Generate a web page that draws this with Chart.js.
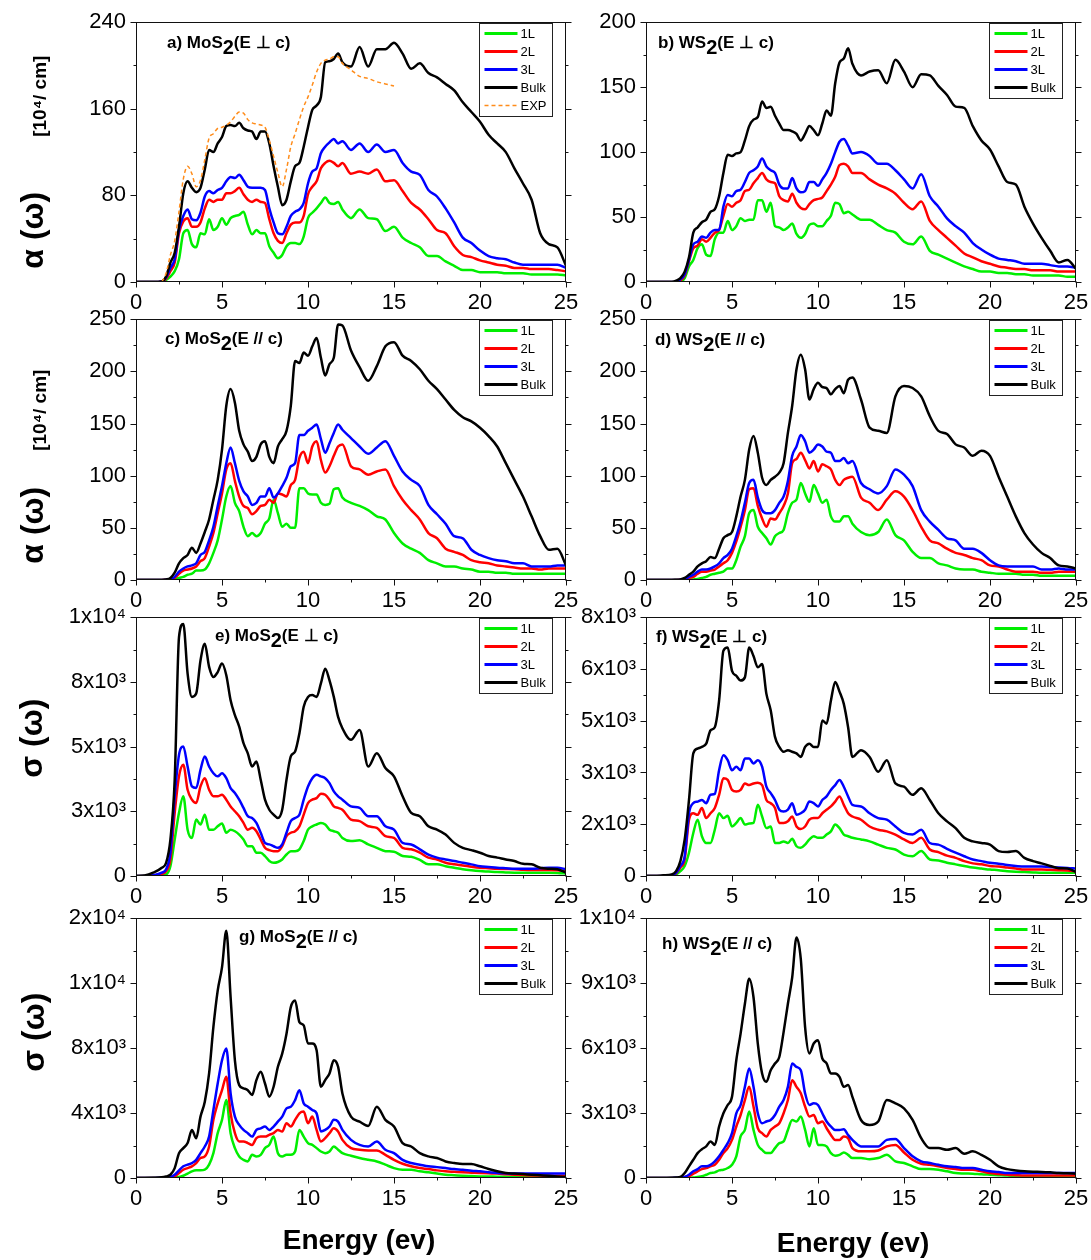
<!DOCTYPE html>
<html><head><meta charset="utf-8">
<script src="https://cdn.jsdelivr.net/npm/chart.js@4.4.1/dist/chart.umd.min.js"></script>
<style>
html,body{margin:0;padding:0;background:#fff;}
body{width:1091px;height:1260px;position:relative;overflow:hidden;}
canvas{position:absolute;}
</style></head><body>
<script>
// ---------- DATA ----------
const energy = [0,0.5,1,1.5,1.75, 2,2.25,2.5,2.75,3,3.25,3.5,3.75,4,4.25,4.5,4.75, 5,5.25,5.5,5.75,6,6.25,6.5,6.75,7,7.25,7.5,7.75, 8,8.25,8.5,8.75,9,9.25,9.5,9.75,10,10.25,10.5,10.75, 11,11.25,11.5,11.75,12, 12.5,13,13.5,14,14.5,15,15.5,16,16.5,17,17.5,18, 18.5,19,19.5,20,20.5,21,21.5,22,22.5,23,23.5,24,24.5,25];

const seriesNames = ['1L','2L','3L','Bulk'];
const expName = 'EXP';

// a) MoS2 (E ⊥ c) absorption
const a1L = [0,0,0,0.3,2, 5,10,21,45,48,35,32,45,44,58,48,51, 59,53,59,61,62,65,53,44,48,45,45,33, 27,22,25,33,36,36,35,42,59,64,68,73, 78,73,72,74,67, 59,67,59,58,47,51,41,36,32,24,24,19, 15,11,11,9,9,9,8,8,8,7,7,7,7,6];
const a2L = [0,0,0,0.5,3, 10,18,45,56,59,51,51,55,68,76,74,76, 76,82,82,84,87,81,76,74,76,74,73,58, 45,38,36,45,53,55,55,61,81,88,93,105, 110,112,110,107,110, 100,102,100,104,93,94,84,73,67,58,48,45, 33,25,23,20,18,16,15,13,13,12,12,12,11,10];
const a3L = [0,0,0,0.5,4, 13,21,48,61,67,58,57,64,79,84,82,85, 87,93,97,96,99,94,88,87,87,87,85,68, 55,45,44,51,61,65,67,73,91,102,105,119, 125,129,132,128,130, 122,128,120,127,120,122,110,102,99,85,79,68, 55,41,36,29,24,22,21,18,16,16,16,16,16,13];
const aBulk = [0,0,0,0.5,5, 18,27,51,82,93,87,83,87,104,122,120,128, 134,144,145,144,147,142,140,139,132,139,139,128, 107,88,71,76,93,107,110,125,143,159,163,171, 203,204,206,211,203, 199,217,199,215,215,221,211,197,202,193,189,183, 177,166,157,148,136,128,120,105,91,76,45,35,32,15];
const aExp = [null,null,null,0,8, 25,38,65,95,107,100,88,94,113,133,137,142, 143,145,148,153,157,156,150,147,146,145,143,131, 116,101,88,104,125,137,150,162,171,182,194,202, 205,206,208,208,202, 196,190,188,185,183,181,null,null,null,null,null,null, null,null,null,null,null,null,null,null,null,null,null,null,null,null];

// b) WS2 (E ⊥ c) absorption
const b1L = [0,0,0,0,0.2, 0.5,3,12,17,26,29,21,20,33,38,38,47, 40,43,49,47,48,48,63,63,54,61,43,42, 40,42,45,37,34,37,44,45,43,43,47,51, 61,60,53,54,52, 48,48,44,40,38,31,29,35,24,21,18,15, 12,10,8,8,7,7,6,6,5,5,5,5,4,4];
const b2L = [0,0,0,0,0.3, 1,5,16,26,28,33,31,34,38,40,51,60, 58,61,63,70,71,76,80,84,79,77,76,66, 63,62,68,61,57,56,60,63,64,65,70,75, 81,90,91,89,84, 84,79,75,72,68,61,56,62,47,40,34,28, 22,19,16,14,12,11,10,10,9,9,9,8,8,8];
const b3L = [0,0,0,0,0.5, 2,6,17,29,31,35,34,38,40,40,58,67, 66,70,71,77,84,86,89,95,89,86,84,75, 72,72,80,72,69,70,77,77,74,79,84,91, 100,108,110,105,99, 100,97,91,91,86,79,72,83,66,58,49,43, 38,30,25,21,18,17,16,14,14,14,13,12,12,11];
const bBulk = [0,0,0,0,1, 3,8,19,38,42,46,48,54,56,66,84,98, 97,99,100,109,120,125,127,139,134,135,128,122, 117,117,116,114,109,114,120,117,113,122,132,128, 153,169,172,180,168, 159,162,163,153,171,162,150,160,159,151,144,135, 134,120,109,102,89,77,75,58,45,34,24,15,17,10];

// c) MoS2 (E // c) absorption
const c1L = [0,0,0,0,0, 0,0.5,2,3,5,6,9,9,10,16,26,38, 58,80,90,74,66,51,42,45,42,45,54,59, 77,64,51,54,50,50,88,88,83,82,82,74, 72,73,87,88,79, 74,71,67,61,58,45,35,30,26,19,16,13, 13,11,10,8,8,7,7,6,6,6,6,6,6,6];
const c2L = [0,0,0,0,0.2, 0.5,2,6,9,10,11,13,18,21,32,45,64, 83,106,112,95,80,71,69,63,66,71,72,77, 74,83,82,80,91,96,117,123,112,128,133,115, 103,109,119,128,130, 109,106,101,104,106,90,77,67,58,45,40,30, 27,24,19,17,16,14,13,12,11,11,10,11,11,11];
const c3L = [0,0,0,0,0.3, 1,3,8,11,13,14,16,24,27,38,51,71, 90,112,127,112,95,85,80,72,74,80,80,88, 79,83,90,98,109,112,139,139,143,146,149,135, 122,131,141,149,144, 136,128,121,127,133,119,104,96,90,72,63,54, 42,40,29,24,21,19,18,16,16,13,13,13,14,14];
const cBulk = [0,0,0,0,0.5, 2,7,16,21,24,31,26,35,46,58,77,96, 125,167,183,170,143,130,123,114,118,130,133,118, 112,128,135,143,167,210,208,218,215,224,232,213, 196,207,213,245,244, 220,204,191,205,224,228,215,210,202,191,183,173, 163,156,152,146,138,128,112,96,80,61,42,29,30,14];

// d) WS2 (E // c) absorption
const d1L = [0,0,0,0,0, 0,0,0.3,0.6,1,2,3,5,6,7,8,11, 11,19,32,42,64,67,51,45,40,34,42,45, 48,64,74,77,93,83,75,91,83,74,77,61, 56,56,61,61,54, 46,43,46,58,43,38,27,21,21,16,14,11, 10,10,8,7,6,6,6,5,5,4,4,4,4,4];
const d2L = [0,0,0,0,0, 0.2,0.5,2,3,6,8,8,9,10,13,16,19, 26,37,51,67,87,88,71,59,51,59,58,64, 71,83,112,116,122,115,107,114,104,111,109,106, 96,91,96,98,99, 79,74,67,77,85,80,67,51,38,35,30,26, 24,21,19,14,13,10,8,8,8,7,7,8,8,8];
const d3L = [0,0,0,0,0, 0.3,1,3,5,8,10,10,11,13,16,21,24, 30,42,56,74,93,96,79,67,64,64,67,74, 80,95,119,128,139,133,122,125,130,128,123,122, 114,114,117,112,114, 93,87,83,90,106,101,90,67,56,48,40,38, 30,30,26,19,14,13,13,13,13,10,10,11,10,10];
const dBulk = [0,0,0,0,0.2, 0.5,2,5,8,13,16,18,22,21,30,40,43, 46,61,80,96,125,138,122,98,91,96,99,103, 112,141,167,202,216,202,173,183,189,185,184,178, 183,186,179,192,194, 173,146,143,141,176,186,184,176,157,143,140,130, 127,119,124,119,99,80,61,45,34,26,21,14,13,11];

// e) MoS2 (E ⊥ c) conductivity
const e1L = [0,0,10,30,60, 380,1410,2440,3080,1790,1470,2180,1990,2370,1790,1790,1920, 2030,1670,1790,1730,1600,1410,1150,1150,900,900,770,580, 510,540,640,830,960,960,1030,1350,1790,1920,1990,2050, 1990,1790,1730,1670,1470, 1350,1380,1220,1090,960,940,770,740,620,450,450,380, 320,260,220,190,170,150,140,130,130,130,130,130,120,100];
const e2L = [0,0,20,80,190, 640,2440,3850,4300,3330,2950,2820,3460,3780,3330,3080,3080, 3140,2950,2690,2500,2310,2050,1790,1860,1730,1410,1090,1000, 960,960,1150,1540,1670,1730,1920,2370,2820,2950,3010,3180, 3140,2950,2690,2630,2560, 2180,2120,1920,1860,1540,1470,1090,1030,900,710,640,510, 450,410,360,320,300,280,270,260,240,230,230,230,220,190];
const e3L = [0,0,30,130,260, 900,3080,4680,5000,4230,3460,3400,4100,4620,4230,3970,3850, 3970,3780,3400,3210,2950,2630,2310,2240,2050,1670,1280,1220, 1150,1090,1220,1670,2120,2240,2370,2950,3460,3780,3910,3850, 3780,3590,3270,3080,2950, 2690,2630,2310,2310,1920,1790,1280,1220,1030,830,710,640, 580,510,450,380,350,320,300,280,280,280,300,320,320,260];
const eBulk = [0,20,130,320,510, 1410,3720,9230,9740,7820,6920,7050,8330,8970,8080,7690,7880, 8210,7760,6790,6220,5770,5130,4740,4230,4420,3720,2950,2560, 2370,2240,2560,3720,4620,4810,5510,6540,6920,6990,6920,7440, 8010,7560,6920,6150,5710, 5260,5640,4230,4740,4170,3850,3080,2440,2310,1920,1790,1600, 1280,1090,1000,900,770,710,640,580,470,450,320,280,260,130];

// f) WS2 (E ⊥ c) conductivity
const f1L = [0,0,0,10,50, 150,310,720,1330,1740,1230,1020,1020,1430,1940,1790,1860, 1530,1640,1790,1590,1620,1640,2200,1840,1480,1530,1020,1020, 1070,1020,1150,920,870,970,1130,1230,1180,1180,1280,1380, 1590,1480,1280,1230,1180, 1130,1070,970,870,820,660,610,770,510,480,410,360, 310,260,230,200,180,150,130,120,110,100,100,100,100,100];
const f2L = [0,0,0,20,80, 260,510,1740,1940,1890,2100,1790,1940,2100,2510,3020,2970, 2660,2610,2660,2860,2810,2860,2880,2810,2350,2250,2100,1640, 1640,1690,1840,1530,1450,1530,1740,1790,1790,1940,2050,2150, 2300,2460,2200,1940,1840, 1740,1530,1430,1380,1280,1130,1020,1180,820,740,630,560, 460,390,360,310,290,260,230,200,200,200,190,180,170,150];
const f3L = [0,0,0,30,100, 310,610,1940,2250,2300,2350,2250,2510,2540,3270,3730,3580, 3270,3380,3270,3630,3630,3480,3580,3380,2760,2560,2350,2050, 1990,2050,2250,1890,1940,2050,2300,2250,2150,2350,2460,2660, 2810,2970,2760,2460,2200, 2150,1940,1790,1740,1530,1330,1280,1430,1020,970,840,720, 610,510,460,410,380,340,310,290,290,290,280,260,250,230];
const fBulk = [0,0,20,50,150, 460,1130,2350,3790,3940,3990,4090,4500,4600,5420,6960,7060, 6340,6190,6040,6140,7060,6800,6450,6550,5630,5120,4300,3990, 3840,3890,3840,3790,3680,3990,4090,3990,3990,4810,4710,5420, 6000,5700,5320,4600,3680, 3890,3680,3220,3580,2860,2760,2510,2710,2350,1940,1690,1480, 1180,1070,1020,970,770,740,770,560,460,390,310,240,230,120];

// g) MoS2 (E // c) conductivity
const g1L = [0,0,0,0,0, 20,40,60,140,270,410,470,470,510,820,1530,2760, 3580,4800,2760,1840,1330,1120,1020,1430,1330,1430,1840,2040, 2550,1530,1330,1430,1430,1630,2960,2550,2150,2040,1840,1630, 1530,1630,1940,1740,1530, 1370,1230,1120,1020,820,610,510,510,410,350,280,200, 170,140,120,100,90,80,70,60,60,50,50,50,40,40];
const g2L = [0,0,0,0,20, 50,100,310,510,610,720,920,1230,1330,1940,3580,4600, 5410,6230,3980,2760,2250,2250,2150,2040,2450,2550,2550,2660, 2760,2960,2860,3370,3170,3580,3980,4090,3370,3780,2960,2250, 2450,2760,3060,2860,2350, 1840,1740,1700,1700,1430,1120,880,720,610,550,470,410, 380,350,330,310,290,270,230,200,180,160,150,140,140,140];
const g3L = [0,0,0,10,30, 60,200,470,720,820,920,1120,1530,1940,2550,4190,5820, 7250,7970,5210,3780,3270,2960,2760,2550,2960,3060,3170,2960, 3170,3470,3780,4290,4390,4800,5410,4600,4390,4190,3980,2860, 2960,3170,3580,3470,2960, 2350,2040,1940,2250,1740,1530,1120,920,820,720,670,610, 550,510,450,410,360,310,290,270,270,270,270,270,270,270];
const gBulk = [0,0,10,40,100, 200,610,1530,1840,2150,2960,2450,3780,4700,6440,9300,11540, 12970,15220,11140,7250,5720,5520,5410,5110,6030,6540,5820,5010, 5620,6850,7660,8890,10520,10930,9600,9400,8280,8280,7870,5620, 6030,6440,7250,6850,5210, 3780,3470,3210,4390,3580,3170,2150,1940,1530,1330,1230,1020, 920,860,860,720,550,410,310,270,240,200,170,140,100,60];

// h) WS2 (E // c) conductivity
const h1L = [0,0,0,0,0, 0,0,10,20,50,80,150,230,260,350,380,460, 610,1000,1920,2220,3070,2220,1530,1300,1150,1150,1380,1610, 1690,2220,2680,2610,2840,2220,1460,2300,1530,1530,1460,1150, 1030,1070,1180,1070,920, 920,870,920,1070,770,690,540,410,410,380,310,230, 210,200,170,150,130,110,100,80,80,80,80,80,80,80];
const h2L = [0,0,0,0,0, 20,50,80,200,310,410,460,540,610,840,1150,1380, 1760,2380,2910,3600,4210,3300,2300,2070,1920,2220,2380,2530, 2990,3600,4520,4210,3910,3300,2840,2910,2530,2610,2300,1990, 1760,1760,1920,1840,1380, 1230,1230,1270,1460,1530,1180,840,660,610,540,460,410, 380,380,310,230,190,150,130,110,110,110,110,110,110,110];
const h3L = [0,0,0,0,10, 20,50,150,310,410,540,540,610,770,1000,1300,1610, 2070,2990,3370,4210,5060,4210,2990,2530,2610,2680,2910,3300, 3600,4210,5290,5130,4980,3910,3370,3450,3370,2990,2610,2380, 2220,2220,2250,1990,1760, 1460,1460,1460,1760,1800,1380,1000,770,690,610,540,510, 460,460,380,310,280,230,230,230,230,230,230,230,230,230];
const hBulk = [0,0,0,10,20, 50,230,540,840,1150,1330,1460,1690,1530,2380,2990,3370, 3750,5440,6670,8050,9200,8350,6210,4830,4440,4980,5290,5590, 6740,8050,9270,11110,10110,6970,5750,6210,6360,5520,5290,4830, 4830,4670,4210,4290,3750, 2680,2450,2610,3600,3450,3220,2680,1840,1380,1380,1300,1380, 1120,1230,1070,840,540,410,350,310,290,280,260,230,220,200];

// tick labels
const xTickVals = [0,5,10,15,20,25];
const xTickLabels = ['0','5','10','15','20','25'];
const yTickValsA = [0,80,160,240];            const yTickLabelsA = ['0','80','160','240'];
const yTickValsB = [0,50,100,150,200];        const yTickLabelsB = ['0','50','100','150','200'];
const yTickValsCD = [0,50,100,150,200,250];   const yTickLabelsCD = ['0','50','100','150','200','250'];
const yTickValsE = [0,2500,5000,7500,10000];  const yTickLabelsE = ['0','3x10³','5x10³','8x10³','1x10⁴'];
const yTickValsF = [0,1600,3200,4800,6400,8000]; const yTickLabelsF = ['0','2x10³','3x10³','5x10³','6x10³','8x10³'];
const yTickValsG = [0,4000,8000,12000,16000]; const yTickLabelsG = ['0','4x10³','8x10³','1x10⁴','2x10⁴'];
const yTickValsH = [0,3000,6000,9000,12000];  const yTickLabelsH = ['0','3x10³','6x10³','9x10³','1x10⁴'];

// ---------- LAYOUT / STYLE ----------
const FAM = '"Liberation Sans", Arial, Helvetica, sans-serif';
const lineColors = ['#00ee00','#ff0000','#0000ff','#000000'];
const colLeft = [136, 646], colRight = [566, 1076];
const rowTop = [22, 319, 617, 918], rowBottom = [282, 580, 876, 1178];

const panels = [
  {row:0,col:0, s:[a1L,a2L,a3L,aBulk], exp:aExp, yv:yTickValsA, yl:yTickLabelsA, minor:2, title:['a) MoS','2','(E \u22A5 c)'], tdx:31, tdy:20,
    texts:[{t:'\u03B1 (\u03C9)', x:34, y:230, f:'bold 32px', r:1},{t:'[10\u2074/ cm]', x:41, y:96, f:'bold 19px', r:1}]},
  {row:0,col:1, s:[b1L,b2L,b3L,bBulk], yv:yTickValsB, yl:yTickLabelsB, minor:2, title:['b) WS','2','(E \u22A5 c)'], tdx:12, tdy:20, texts:[]},
  {row:1,col:0, s:[c1L,c2L,c3L,cBulk], yv:yTickValsCD, yl:yTickLabelsCD, minor:2, title:['c) MoS','2','(E // c)'], tdx:29, tdy:19,
    texts:[{t:'\u03B1 (\u03C9)', x:34, y:525, f:'bold 32px', r:1},{t:'[10\u2074/ cm]', x:41, y:410, f:'bold 19px', r:1}]},
  {row:1,col:1, s:[d1L,d2L,d3L,dBulk], yv:yTickValsCD, yl:yTickLabelsCD, minor:2, title:['d) WS','2','(E // c)'], tdx:9, tdy:20, texts:[]},
  {row:2,col:0, s:[e1L,e2L,e3L,eBulk], yv:yTickValsE, yl:yTickLabelsE, minor:2, title:['e) MoS','2','(E \u22A5 c)'], tdx:79, tdy:18,
    texts:[{t:'\u03C3 (\u03C9)', x:33, y:738, f:'bold 32px', r:1}]},
  {row:2,col:1, s:[f1L,f2L,f3L,fBulk], yv:yTickValsF, yl:yTickLabelsF, minor:2, title:['f) WS','2','(E \u22A5 c)'], tdx:10, tdy:19, texts:[]},
  {row:3,col:0, s:[g1L,g2L,g3L,gBulk], yv:yTickValsG, yl:yTickLabelsG, minor:2, title:['g) MoS','2','(E // c)'], tdx:103, tdy:18,
    texts:[{t:'\u03C3 (\u03C9)', x:35, y:1032, f:'bold 32px', r:1},{t:'Energy (ev)', x:359, y:1241, f:'bold 28px', r:0}]},
  {row:3,col:1, s:[h1L,h2L,h3L,hBulk], yv:yTickValsH, yl:yTickLabelsH, minor:2, title:['h) WS','2','(E // c)'], tdx:16, tdy:25,
    texts:[{t:'Energy (ev)', x:853, y:1244, f:'bold 28px', r:0}]}
];

function makeDecor(p, tgtLeft, tgtTop) {
  return {
    id: 'decor',
    afterDraw(chart) {
      const ctx = chart.ctx, ca = chart.chartArea, xs = chart.scales.x, ys = chart.scales.y;
      const offX = tgtLeft - ca.left, offY = tgtTop - ca.top;
      ctx.save();
      ctx.strokeStyle = '#111'; ctx.lineWidth = 1; ctx.setLineDash([]);
      const L = Math.round(ca.left) + 0.5, T = Math.round(ca.top) + 0.5;
      const R = Math.round(ca.right) - 0.5, B = Math.round(ca.bottom) - 0.5;
      ctx.strokeRect(L, T, R - L, B - T);
      // tick marks (major + minor)
      ctx.beginPath();
      const xStep = (xTickVals[1] - xTickVals[0]) / 2;
      for (let v = xs.min; v <= xs.max + 1e-9; v += xStep) {
        const px = Math.round(xs.getPixelForValue(v)) + 0.5;
        const len = xTickVals.includes(v) ? 6 : 3;
        ctx.moveTo(px, B); ctx.lineTo(px, B + len);
      }
      const yStep = (p.yv[1] - p.yv[0]) / p.minor;
      for (let v = ys.min; v <= ys.max + 1e-9; v += yStep) {
        const py = Math.round(ys.getPixelForValue(v)) + 0.5;
        const len = p.yv.includes(v) ? 6 : 3;
        ctx.moveTo(L - len, py); ctx.lineTo(L, py);
        ctx.moveTo(R, py); ctx.lineTo(R + len, py);
      }
      ctx.stroke();
      // legend box
      const dsets = chart.data.datasets;
      const bw = 73, rowH = 18, bh = rowH * dsets.length + 3;
      const bx = Math.round(ca.right - 14 - bw) + 0.5, by = Math.round(ca.top + 1) + 0.5;
      ctx.fillStyle = '#fff'; ctx.fillRect(bx, by, bw, bh);
      ctx.strokeStyle = '#222'; ctx.lineWidth = 1; ctx.strokeRect(bx, by, bw, bh);
      ctx.font = '13px ' + FAM; ctx.textBaseline = 'middle'; ctx.textAlign = 'left';
      dsets.forEach((ds, i) => {
        const cy = by + 10 + i * rowH;
        ctx.strokeStyle = ds.borderColor; ctx.lineWidth = ds.borderDash ? 1.5 : 3;
        ctx.setLineDash(ds.borderDash || []);
        ctx.beginPath(); ctx.moveTo(bx + 5, cy); ctx.lineTo(bx + 38, cy); ctx.stroke();
        ctx.setLineDash([]);
        ctx.fillStyle = '#000'; ctx.fillText(ds.label, bx + 41, cy + 1);
      });
      // panel title with subscript
      ctx.fillStyle = '#000'; ctx.textBaseline = 'alphabetic';
      let x = ca.left + p.tdx; const base = ca.top + p.tdy + 6;
      ctx.font = 'bold 17px ' + FAM; ctx.fillText(p.title[0], x, base); x += ctx.measureText(p.title[0]).width;
      ctx.font = 'bold 20px ' + FAM; ctx.fillText(p.title[1], x, base + 6); x += ctx.measureText(p.title[1]).width;
      ctx.font = 'bold 17px ' + FAM; ctx.fillText(p.title[2], x, base);
      // extra texts (axis titles), absolute page coordinates
      p.texts.forEach(t => {
        ctx.save();
        ctx.font = t.f + ' ' + FAM; ctx.textAlign = 'center'; ctx.textBaseline = 'middle'; ctx.fillStyle = '#000';
        ctx.translate(t.x - offX, t.y - offY);
        if (t.r) ctx.rotate(-Math.PI / 2);
        ctx.fillText(t.t, 0, 0);
        ctx.restore();
      });
      ctx.restore();
    }
  };
}

panels.forEach(p => {
  const left = colLeft[p.col], right = colRight[p.col], top = rowTop[p.row], bottom = rowBottom[p.row];
  const padL = 4, padR = 16, padT = 14, padB = 4;
  const yw = p.col === 0 ? 130 : 80;
  const xh = p.row === 3 ? 78 : 28;
  let cw = (right - left) + yw + padL + padR, ch = (bottom - top) + padT + padB + xh;
  const cv = document.createElement('canvas');
  cv.width = cw; cv.height = ch; cv.style.width = cw + 'px'; cv.style.height = ch + 'px';
  cv.style.left = (left - yw - padL) + 'px'; cv.style.top = (top - padT) + 'px';
  document.body.appendChild(cv);

  const datasets = p.s.map((arr, i) => ({
    label: seriesNames[i], data: energy.map((e, k) => ({x: e, y: arr[k]})),
    borderColor: lineColors[i], borderWidth: 2.5, pointRadius: 0, cubicInterpolationMode: 'monotone', fill: false, order: 5 - i
  }));
  if (p.exp) datasets.push({
    label: expName, data: energy.map((e, k) => ({x: e, y: p.exp[k]})),
    borderColor: '#ff8c1a', borderWidth: 1.5, borderDash: [4, 3], pointRadius: 0, cubicInterpolationMode: 'monotone', fill: false, order: 0, spanGaps: false
  });

  const yMax = p.yv[p.yv.length - 1];
  const grid = {display: true, drawOnChartArea: false, drawTicks: true, tickLength: 6, color: 'rgba(0,0,0,0)'};
  const chart = new Chart(cv.getContext('2d'), {
    type: 'line',
    data: {datasets},
    options: {
      responsive: false, maintainAspectRatio: false, animation: false, devicePixelRatio: 1,
      layout: {padding: {left: padL, right: padR, top: padT, bottom: padB}},
      plugins: {legend: {display: false}, tooltip: {enabled: false}, title: {display: false}},
      scales: {
        x: {type: 'linear', min: xTickVals[0], max: xTickVals[xTickVals.length - 1],
            afterFit(s) { s.height = xh; },
            grid, border: {display: false},
            ticks: {stepSize: xTickVals[1] - xTickVals[0], autoSkip: false, maxRotation: 0, color: '#000', padding: 2,
                    font: {size: 22, family: FAM},
                    callback: v => { const i = xTickVals.indexOf(v); return i >= 0 ? xTickLabels[i] : ''; }}},
        y: {type: 'linear', min: 0, max: yMax,
            afterFit(s) { s.width = yw; },
            grid, border: {display: false},
            ticks: {stepSize: p.yv[1] - p.yv[0], autoSkip: false, color: '#000', padding: 4,
                    font: {size: 22, family: FAM},
                    callback: v => { const i = p.yv.indexOf(v); return i >= 0 ? p.yl[i] : ''; }}}
      }
    },
    plugins: [makeDecor(p, left, top)]
  });
  // make the plot area exactly the target size, then align it on the page
  for (let k = 0; k < 4; k++) {
    const ca0 = chart.chartArea;
    const dw = (right - left) - (ca0.right - ca0.left), dh = (bottom - top) - (ca0.bottom - ca0.top);
    if (Math.abs(dw) < 0.5 && Math.abs(dh) < 0.5) break;
    cw += Math.round(dw); ch += Math.round(dh);
    cv.style.width = cw + 'px'; cv.style.height = ch + 'px';
    chart.resize(cw, ch);
  }
  const ca = chart.chartArea;
  cv.style.left = (left - ca.left) + 'px';
  cv.style.top = (top - ca.top) + 'px';
});
</script>
</body></html>
